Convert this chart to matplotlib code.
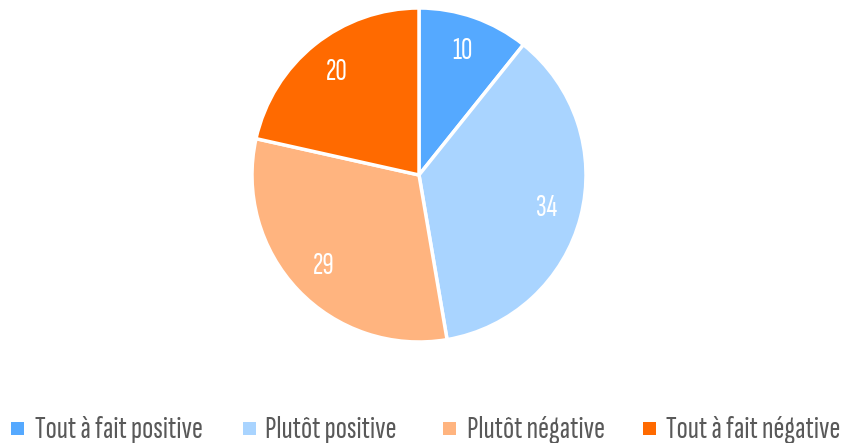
import matplotlib
matplotlib.use("Agg")
import matplotlib.pyplot as plt
from matplotlib.patches import Rectangle
from matplotlib import font_manager

categories = ["Tout à fait positive", "Plutôt positive", "Plutôt négative", "Tout à fait négative"]
values = [10, 34, 29, 20]
colors = ["#55A9FF", "#A9D4FF", "#FFB47F", "#FF6A00"]

names = {f.name for f in font_manager.fontManager.ttflist}
main = "Sofia Sans Extra Condensed" if "Sofia Sans Extra Condensed" in names else "DejaVu Sans"
plt.rcParams["font.family"] = [main, "DejaVu Sans"]
plt.rcParams["font.weight"] = "light"

W, H = 844, 443
fig = plt.figure(figsize=(W / 100, H / 100), dpi=100)
renderer = fig.canvas.get_renderer()

# choose font size so the first legend label is ~168 px wide
probe = fig.text(0, 0, categories[0], fontsize=10, fontweight="light")
w10 = probe.get_window_extent(renderer).width
probe.remove()
fsz = 10 * 168 / w10

cx, cy, r = 419, 175, 167
ax = fig.add_axes([(cx - r) / W, 1 - (cy + r) / H, 2 * r / W, 2 * r / H])
wedges, texts = ax.pie(values, colors=colors, startangle=90, counterclock=False,
                       labels=[str(v) for v in values], labeldistance=0.79,
                       wedgeprops=dict(edgecolor="white", linewidth=2.5))
for t in texts:
    t.set_color("white")
    t.set_fontsize(fsz * 0.95)
    t.set_fontweight("light")
    t.set_ha("center")
    t.set_va("center")
ax.set_aspect("equal")
ax.set_xlim(-1, 1)
ax.set_ylim(-1, 1)

# legend, laid out as in the reference
marker_left = [11, 243, 443, 643]
text_left = [35, 265, 467, 666]
ymid = 428
for c, lab, mx, tx in zip(colors, categories, marker_left, text_left):
    fig.patches.append(Rectangle((mx / W, 1 - (ymid + 7) / H), 13 / W, 13 / H,
                                 transform=fig.transFigure, facecolor=c, edgecolor="none"))
    fig.text(tx / W, 1 - (ymid - 1) / H, lab, fontsize=fsz, fontweight="light", color="#595959",
             ha="left", va="center_baseline")
fig.savefig("out.png", dpi=100)
